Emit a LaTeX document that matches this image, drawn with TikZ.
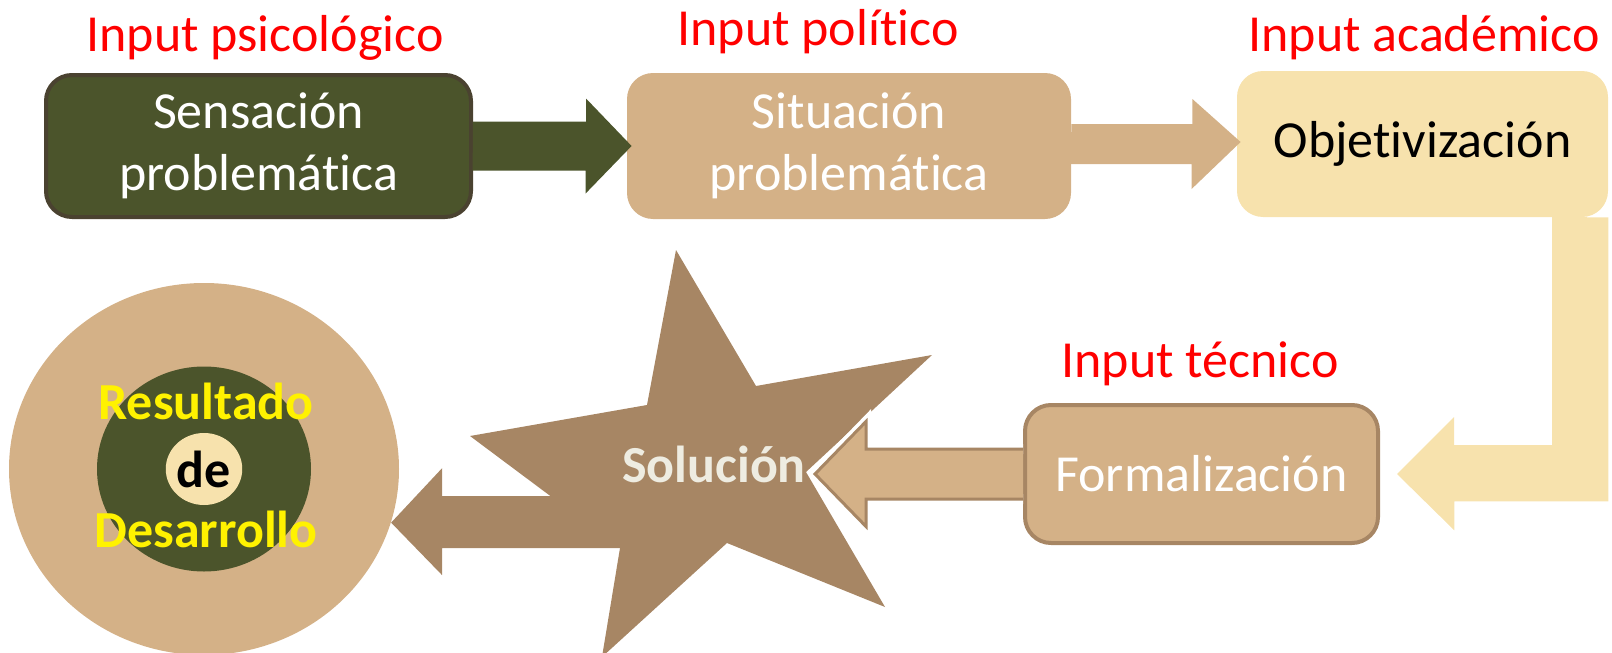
\documentclass[tikz,border=0pt]{standalone}
\usepackage{fontspec}
\setmainfont{Carlito}[Ligatures = {NoCommon, NoRare, NoContextual}, RawFeature = {-liga;-clig;-dlig}]
\usetikzlibrary{shapes.geometric}

\definecolor{darkolive}{RGB}{75,84,43}
\definecolor{oliveedge}{RGB}{74,66,48}
\definecolor{tanfill}{RGB}{212,177,135}
\definecolor{wheatfill}{RGB}{247,226,173}
\definecolor{starbrown}{RGB}{167,134,100}
\definecolor{soltext}{RGB}{238,236,225}

\begin{document}
\begin{tikzpicture}[x = 0.5pt, y = -0.5pt,
    box/.style = {rounded corners = 13pt, align = center, inner sep = 0pt, font = \fontsize{26}{31}\selectfont},
    inp/.style = {anchor = base, text = red, font = \fontsize{26}{31}\selectfont},
    big/.style = {anchor = base, font = \bfseries\fontsize{26}{31}\selectfont} ]
        \path[use as bounding box] (0, 0) rectangle (1612, 653);

        \node at (204, 469) [ellipse, fill = tanfill, minimum width = 195pt, minimum height = 186pt] (res) {};
        \node at (204, 469) [ellipse, fill = darkolive, minimum width = 107pt, minimum height = 102.5pt] (core) {};
        \node at (204, 469) [ellipse, fill = wheatfill, inner sep = 0pt, minimum width = 37.5pt, minimum height = 36pt, font = \bfseries\fontsize{26}{31}\selectfont] (de) {de};
        \node at (206, 419) [big, text = yellow] (r1) {Resultado};
        \node at (206, 547) [big, text = yellow] (r2) {Desarrollo};

        \fill[starbrown] (676, 250) -- (756, 386) -- (932, 355) -- (806, 472) -- (885, 607) -- (727, 543) -- (602, 657) -- (620, 548) -- (470, 436) -- (647, 405) -- cycle;
        \node at (714, 482) [big, text = soltext] (sol) {Solución};
        \coordinate (sp) at (815, 474);
        \fill[starbrown] (res.-16) -- ++(51, -54.5) -- ++(0, 28) -- ++(200, 0) -- ++(0, 52) -- ++(-200, 0) -- ++(0, 27) -- cycle;

        \node at (258.5, 146) [box, fill = darkolive, draw = oliveedge, line width = 2pt, text = white, minimum width = 212.5pt, minimum height = 71pt] (sen) {Sensación\\problemática};
        \node at (849, 146) [box, fill = tanfill, text = white, minimum width = 222pt, minimum height = 73pt] (sit) {Situación\\problemática};
        \node at (1422.5, 144) [box, fill = wheatfill, minimum width = 185.5pt, minimum height = 73pt] (obj) {Objetivización};
        \node at (1201.5, 474) [box, fill = tanfill, draw = starbrown, line width = 2pt, text = white, minimum width = 176.5pt, minimum height = 69pt] (form) {Formalización};

        \fill[darkolive] (sen.east) ++(0, -24.5) -- ++(113, 0) -- ++(0, -23) -- ([xshift = 2.5pt]sit.west) -- ++(-46, 47.5) -- ++(0, -23) -- ++(-113, 0) -- cycle;
        \fill[tanfill] (sit.east) ++(0, -22) -- ++(121, 0) -- ++(0, -25) -- ([xshift = 2pt, yshift = 1pt]obj.west) -- ++(-49, 47) -- ++(0, -25) -- ++(-121, 0) -- cycle;
        \fill[wheatfill] (obj.south east) -- ++(0, 284) -- ++(-154, 0) -- ++(0, 29) -- ([xshift = 8.5pt]form.east) -- ++(57, -57) -- ++(0, 28) -- ++(98, 0) -- ++(0, -228) -- cycle;
        \filldraw[fill = tanfill, draw = starbrown, line width = 1.5pt, preaction = {draw = white, line width = 5pt}] (form.west) ++(0, -25) -- ++(-157, 0) -- ++(0, -27.5) -- (sp) -- ++(51, 52.5) -- ++(0, -27.5) -- ++(157, 0);

        \node at (265, 51) [inp] (l1) {Input psicológico};
        \node at (818, 45) [inp] (l2) {Input político};
        \node at (1424, 51) [inp] (l3) {Input académico};
        \node at (1200, 377) [inp] (l4) {Input técnico};
    \end{tikzpicture}
\end{document}
